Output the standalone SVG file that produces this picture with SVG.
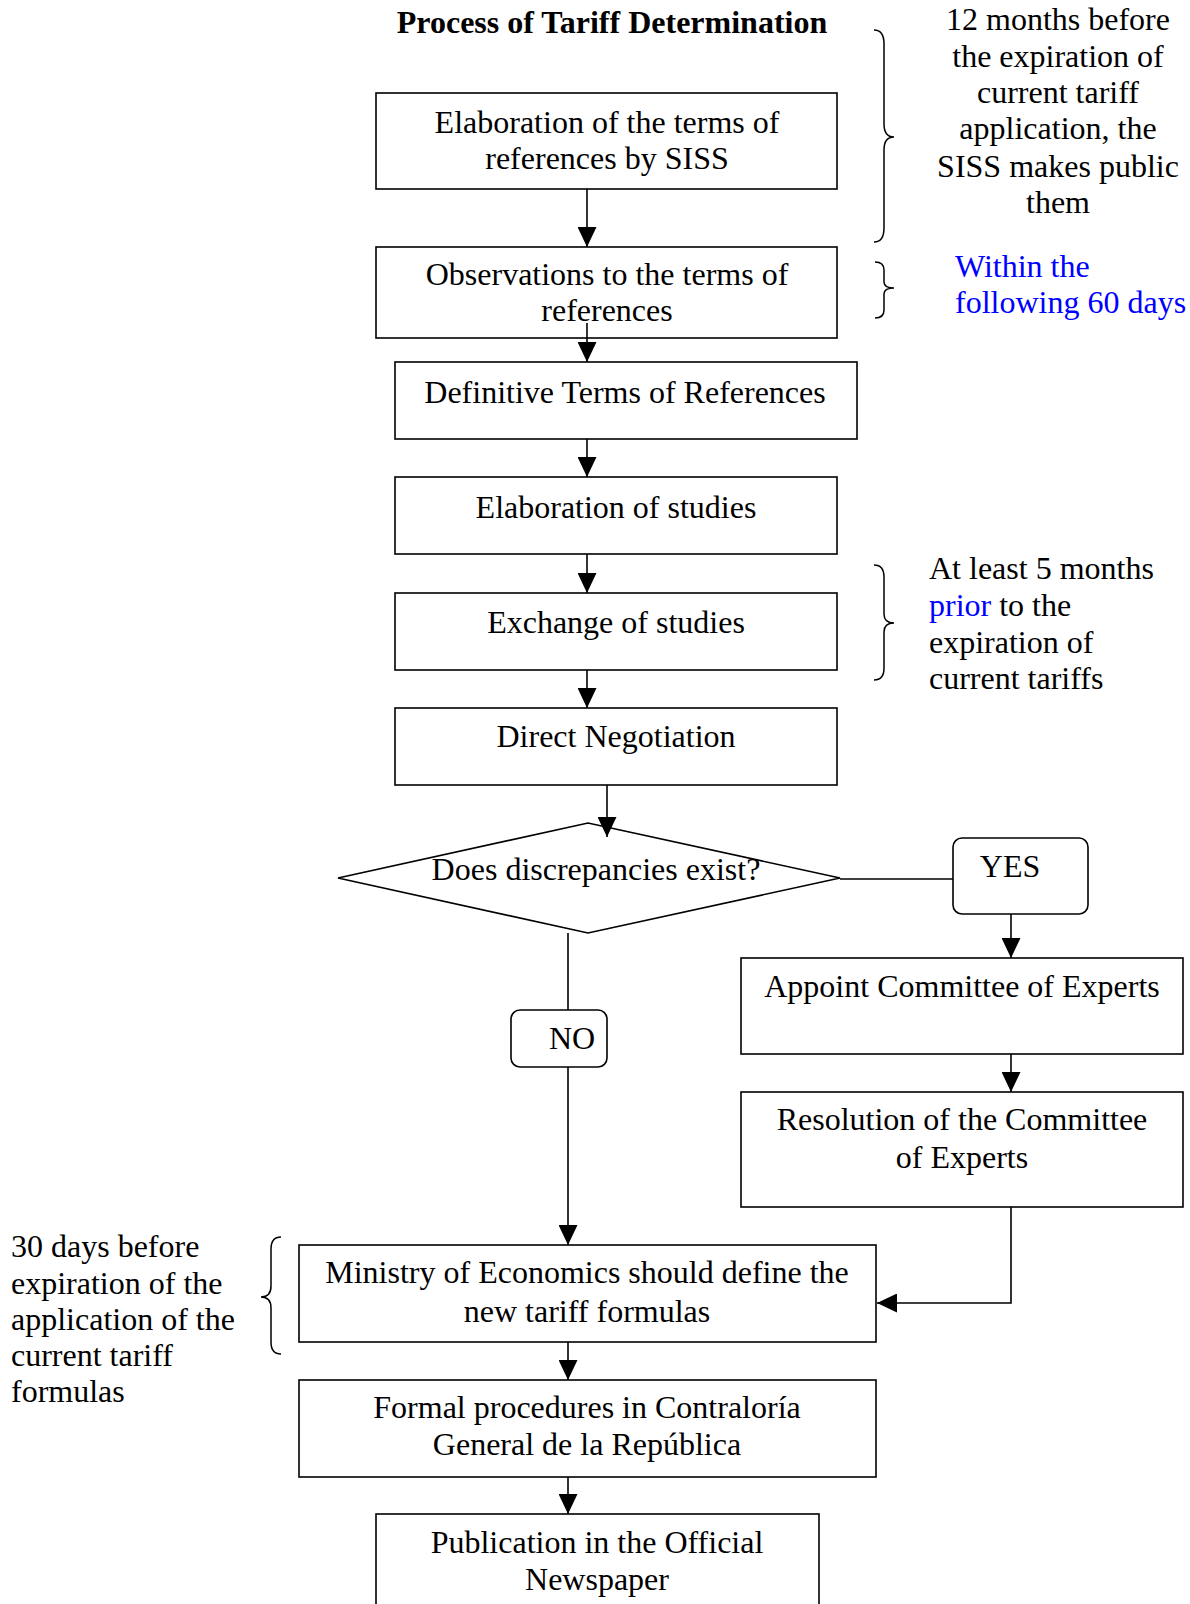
<svg xmlns="http://www.w3.org/2000/svg" width="1190" height="1604" viewBox="0 0 1190 1604">
<style>
text{font-family:"Liberation Serif","Times New Roman",serif;font-size:32px;fill:#000}
.c{text-anchor:middle}
.t{font-weight:bold}
.b{fill:#0000FF}
.box{fill:#fff;stroke:#000;stroke-width:1.6}
.ln{fill:none;stroke:#000;stroke-width:1.6}
.br{fill:none;stroke:#000;stroke-width:1.5}
</style>
<defs>
<marker id="ah" markerUnits="userSpaceOnUse" markerWidth="20" markerHeight="19" refX="20" refY="9.5" orient="auto" viewBox="0 0 20 19">
<path d="M0,0 L20,9.5 L0,19 z" fill="#000"/>
</marker>
</defs>
<rect width="1190" height="1604" fill="#fff"/>
<text class="c t" x="612" y="33">Process of Tariff Determination</text>

<g id="connectors">
<line class="ln" x1="587" y1="189" x2="587" y2="247" marker-end="url(#ah)"/>
<line class="ln" x1="587" y1="323" x2="587" y2="362" marker-end="url(#ah)"/>
<line class="ln" x1="587" y1="439" x2="587" y2="477" marker-end="url(#ah)"/>
<line class="ln" x1="587" y1="554" x2="587" y2="593" marker-end="url(#ah)"/>
<line class="ln" x1="587" y1="670" x2="587" y2="708" marker-end="url(#ah)"/>
<line class="ln" x1="607" y1="785" x2="607" y2="837" marker-end="url(#ah)"/>
<line class="ln" x1="840" y1="879" x2="953" y2="879"/>
<line class="ln" x1="1011" y1="914" x2="1011" y2="958" marker-end="url(#ah)"/>
<line class="ln" x1="1011" y1="1054" x2="1011" y2="1092" marker-end="url(#ah)"/>
<polyline class="ln" points="1011,1207 1011,1303 877,1303" marker-end="url(#ah)"/>
<line class="ln" x1="568" y1="933" x2="568" y2="1010"/>
<line class="ln" x1="568" y1="1067" x2="568" y2="1245" marker-end="url(#ah)"/>
<line class="ln" x1="568" y1="1342" x2="568" y2="1380" marker-end="url(#ah)"/>
<line class="ln" x1="568" y1="1477" x2="568" y2="1514" marker-end="url(#ah)"/>
</g>

<g id="n1">
<rect class="box" x="376" y="93" width="461" height="96" style="fill:none"/>
<text class="c" x="607" y="133">Elaboration of the terms of</text>
<text class="c" x="607" y="169">references by SISS</text>
</g>
<g id="n2">
<rect class="box" x="376" y="247" width="461" height="91" style="fill:none"/>
<text class="c" x="607" y="285">Observations to the terms of</text>
<text class="c" x="607" y="321">references</text>
</g>
<g id="n3">
<rect class="box" x="395" y="362" width="462" height="77"/>
<text class="c" x="625" y="403">Definitive Terms of References</text>
</g>
<g id="n4">
<rect class="box" x="395" y="477" width="442" height="77"/>
<text class="c" x="616" y="518">Elaboration of studies</text>
</g>
<g id="n5">
<rect class="box" x="395" y="593" width="442" height="77"/>
<text class="c" x="616" y="633">Exchange of studies</text>
</g>
<g id="n6">
<rect class="box" x="395" y="708" width="442" height="77"/>
<text class="c" x="616" y="747">Direct Negotiation</text>
</g>
<g id="decision">
<polygon class="box" points="338,878 588,823 840,878 588,933" style="fill:none"/>
<text class="c" x="596" y="880">Does discrepancies exist?</text>
</g>
<g id="yes">
<rect class="box" x="953" y="838" width="135" height="76" rx="9"/>
<text class="c" x="1010" y="877">YES</text>
</g>
<g id="no">
<rect class="box" x="511" y="1010" width="96" height="57" rx="9"/>
<text class="c" x="572" y="1049">NO</text>
</g>
<g id="appoint">
<rect class="box" x="741" y="958" width="442" height="96"/>
<text class="c" x="962" y="997">Appoint Committee of Experts</text>
</g>
<g id="resolution">
<rect class="box" x="741" y="1092" width="442" height="115"/>
<text class="c" x="962" y="1130">Resolution of the Committee</text>
<text class="c" x="962" y="1168">of Experts</text>
</g>
<g id="ministry">
<rect class="box" x="299" y="1245" width="577" height="97"/>
<text class="c" x="587" y="1283">Ministry of Economics should define the</text>
<text class="c" x="587" y="1322">new tariff formulas</text>
</g>
<g id="formal">
<rect class="box" x="299" y="1380" width="577" height="97"/>
<text class="c" x="587" y="1418">Formal procedures in Contraloría</text>
<text class="c" x="587" y="1455">General de la República</text>
</g>
<g id="publication">
<rect class="box" x="376" y="1514" width="443" height="100"/>
<text class="c" x="597" y="1553">Publication in the Official</text>
<text class="c" x="597" y="1590">Newspaper</text>
</g>

<g id="notes">
<path class="br" d="M874,30 Q884,30 884,44 L884,124 Q884,137 894,137 Q884,137 884,150 L884,228 Q884,242 874,242"/>
<text class="c" x="1058" y="30">12 months before</text>
<text class="c" x="1058" y="67">the expiration of</text>
<text class="c" x="1058" y="103">current tariff</text>
<text class="c" x="1058" y="139">application, the</text>
<text class="c" x="1058" y="177">SISS makes public</text>
<text class="c" x="1058" y="213">them</text>

<path class="br" d="M875,262 Q884,262 884,270 L884,282 Q884,288 894,288 Q884,288 884,294 L884,310 Q884,318 875,318"/>
<text class="b" x="955" y="277">Within the</text>
<text class="b" x="955" y="313">following 60 days</text>

<path class="br" d="M874,565 Q884,565 884,577 L884,614 Q884,623 894,623 Q884,623 884,632 L884,668 Q884,680 874,680"/>
<text x="929" y="579">At least 5 months</text>
<text x="929" y="616"><tspan class="b">prior</tspan> to the</text>
<text x="929" y="653">expiration of</text>
<text x="929" y="689">current tariffs</text>

<path class="br" d="M281,1237 Q271,1237 271,1249 L271,1286 Q271,1297 261,1297 Q271,1297 271,1308 L271,1342 Q271,1354 281,1354"/>
<text x="11" y="1257">30 days before</text>
<text x="11" y="1294">expiration of the</text>
<text x="11" y="1330">application of the</text>
<text x="11" y="1366">current tariff</text>
<text x="11" y="1402">formulas</text>
</g>
</svg>
